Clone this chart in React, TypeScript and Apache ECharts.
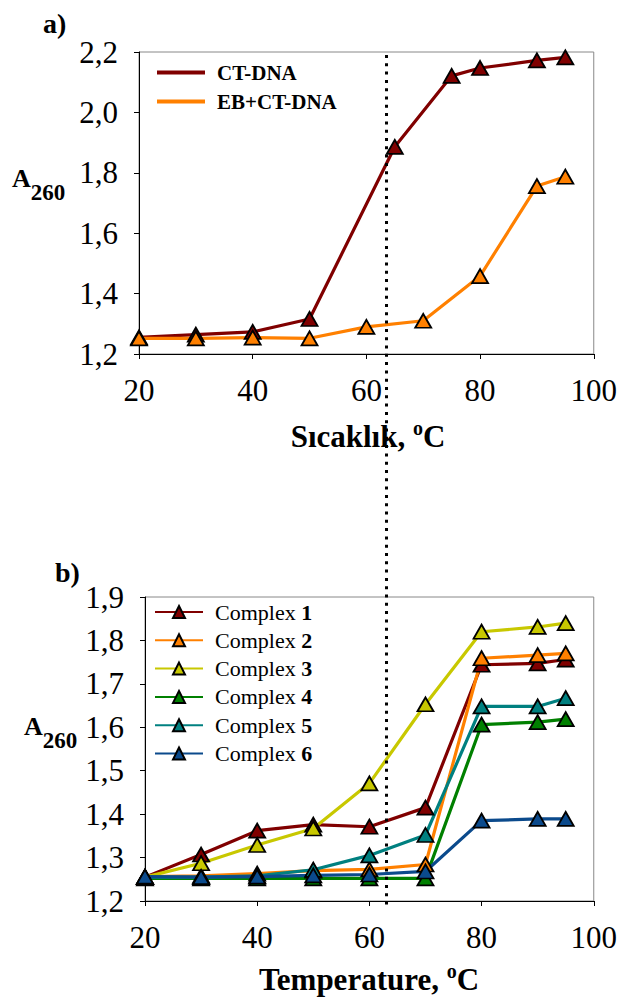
import React, { useEffect, useRef } from "react";
import * as echarts from "echarts";

// Panel a) data
const tempCT = [20, 30, 40, 50, 65, 75, 80, 90, 95];
const ctDna = [1.255, 1.264, 1.273, 1.316, 1.886, 2.121, 2.147, 2.172, 2.182];
const tempEB = [20, 30, 40, 50, 60, 70, 80, 90, 95];
const ebCtDna = [1.252, 1.252, 1.254, 1.252, 1.29, 1.31, 1.458, 1.756, 1.787];

// Panel b) data
const tempB = [20, 30, 40, 50, 60, 70, 80, 90, 95];
const complex1 = [1.255, 1.307, 1.362, 1.376, 1.371, 1.415, 1.744, 1.747, 1.756];
const complex2 = [1.256, 1.258, 1.263, 1.27, 1.273, 1.284, 1.759, 1.766, 1.77];
const complex3 = [1.255, 1.287, 1.329, 1.367, 1.471, 1.653, 1.82, 1.831, 1.84];
const complex4 = [1.252, 1.252, 1.252, 1.252, 1.252, 1.252, 1.606, 1.612, 1.619];
const complex5 = [1.255, 1.255, 1.258, 1.272, 1.305, 1.352, 1.648, 1.648, 1.667];
const complex6 = [1.256, 1.255, 1.256, 1.259, 1.261, 1.268, 1.385, 1.389, 1.389];

const complexNames = ["Complex 1", "Complex 2", "Complex 3", "Complex 4", "Complex 5", "Complex 6"];
const complexData = [complex1, complex2, complex3, complex4, complex5, complex6];
const complexColors = ["#800000", "#FF8000", "#C8C800", "#008000", "#008080", "#0B4A8C"];

const meltingTemp = 63.3;

const FONT = "'Liberation Serif', 'Times New Roman', serif";

const zip = (xs: number[], ys: number[]) => xs.map((x, i) => [x, ys[i]]);

export default function App() {
  const ref = useRef<HTMLDivElement>(null);

  useEffect(() => {
    document.body.style.margin = "0";
    if (!ref.current) return;
    const chart = echarts.init(ref.current, null, { renderer: "svg" });

    const tickFmt = (v: number) => v.toFixed(1).replace(".", ",");
    const xAxisBase = (gridIndex: number) => ({
      type: "value",
      gridIndex,
      min: 20,
      max: 100,
      interval: 20,
      axisLine: { show: true, lineStyle: { color: "#000", width: 1 } },
      axisTick: { show: true, inside: false, length: 5, lineStyle: { color: "#000" } },
      axisLabel: { margin: 21, fontSize: 31, fontFamily: FONT, color: "#000" },
      splitLine: { show: false },
    });

    const markerStyle = (color: string) => ({
      color,
      borderColor: "#000",
      borderWidth: 1.8,
    });

    const lineSeries = (name: string, data: number[][], color: string, idx: number) => ({
      type: "line",
      name,
      xAxisIndex: idx,
      yAxisIndex: idx,
      data,
      symbol: "triangle",
      symbolSize: [16, 14],
      showSymbol: true,
      lineStyle: { color, width: 3.2 },
      itemStyle: markerStyle(color),
      emphasis: { disabled: true },
    });

    const titleRich = {
      t: { fontSize: 31, fontWeight: "bold", fontFamily: FONT, color: "#000", lineHeight: 36, verticalAlign: "middle" },
      s: { fontSize: 20, fontWeight: "bold", fontFamily: FONT, color: "#000", verticalAlign: "top" },
    };
    const aRich = {
      a: { fontSize: 26, fontWeight: "bold", fontFamily: FONT, color: "#000", lineHeight: 39, verticalAlign: "top" },
      b: { fontSize: 23, fontWeight: "bold", fontFamily: FONT, color: "#000", verticalAlign: "bottom" },
    };

    const baseGraphic: any[] = [
      { type: "text", x: 43, y: 23, style: { text: "a)", font: `bold 28px ${FONT}`, fill: "#000", textVerticalAlign: "middle" } },
      { type: "text", x: 55, y: 572, style: { text: "b)", font: `bold 28px ${FONT}`, fill: "#000", textVerticalAlign: "middle" } },
      { type: "text", x: 12, y: 165, style: { text: "{a|A}{b|260}", rich: aRich } },
      { type: "text", x: 24, y: 713, style: { text: "{a|A}{b|260}", rich: aRich } },
      { type: "text", x: 368, y: 436, style: { text: "{t|Sıcaklık, }{s|o}{t|C}", rich: titleRich, align: "center", verticalAlign: "middle" } },
      { type: "text", x: 369, y: 979, style: { text: "{t|Temperature, }{s|o}{t|C}", rich: titleRich, align: "center", verticalAlign: "middle" } },
    ];

    const option: any = {
      animation: false,
      backgroundColor: "#fff",
      grid: [
        { left: 139, right: 24, top: 52, height: 302, show: true, borderColor: "#888", borderWidth: 1, backgroundColor: "transparent" },
        { left: 145, right: 24, top: 597, height: 304, show: true, borderColor: "#888", borderWidth: 1, backgroundColor: "transparent" },
      ],
      xAxis: [xAxisBase(0), xAxisBase(1)],
      yAxis: [
        {
          type: "value",
          gridIndex: 0,
          min: 1.2,
          max: 2.2,
          interval: 0.2,
          axisLine: { show: true, lineStyle: { color: "#000" } },
          axisTick: { show: true, length: 5, lineStyle: { color: "#000" } },
          axisLabel: { margin: 21, fontSize: 31, fontFamily: FONT, color: "#000", formatter: tickFmt },
          splitLine: { show: false },
        },
        {
          type: "value",
          gridIndex: 1,
          min: 1.2,
          max: 1.9,
          interval: 0.1,
          axisLine: { show: true, lineStyle: { color: "#000" } },
          axisTick: { show: true, length: 5, lineStyle: { color: "#000" } },
          axisLabel: { margin: 21, fontSize: 31, fontFamily: FONT, color: "#000", formatter: tickFmt },
          splitLine: { show: false },
        },
      ],
      legend: [
        {
          orient: "vertical",
          left: 157,
          top: 62,
          padding: 0,
          itemWidth: 48,
          itemHeight: 4,
          itemGap: 8,
          icon: "rect",
          itemStyle: { borderWidth: 0 },
          data: ["CT-DNA", "EB+CT-DNA"],
          textStyle: { fontSize: 21, fontWeight: "bold", fontFamily: FONT, color: "#000", padding: [0, 0, 0, 7] },
        },
        {
          orient: "vertical",
          left: 154,
          top: 601,
          padding: 0,
          itemWidth: 48,
          itemHeight: 15,
          itemGap: 6.3,
          data: complexNames,
          formatter: (name: string) => {
            const parts = name.split(" ");
            return `{n|${parts[0]} }{b|${parts[1]}}`;
          },
          textStyle: {
            fontSize: 22,
            fontFamily: FONT,
            color: "#000",
            padding: [0, 0, 0, 7],
            rich: {
              n: { fontSize: 22, fontFamily: FONT, color: "#000" },
              b: { fontSize: 22, fontFamily: FONT, fontWeight: "bold", color: "#000" },
            },
          },
        },
      ],
      series: [
        lineSeries("CT-DNA", zip(tempCT, ctDna), "#800000", 0),
        lineSeries("EB+CT-DNA", zip(tempEB, ebCtDna), "#FF8000", 0),
        ...complexNames.map((n, i) => lineSeries(n, zip(tempB, complexData[i]), complexColors[i], 1)),
      ],
      graphic: baseGraphic,
    };

    chart.setOption(option);

    const xTop = chart.convertToPixel({ xAxisIndex: 0 }, meltingTemp) as number;
    const xBot = chart.convertToPixel({ xAxisIndex: 1 }, meltingTemp) as number;
    const x = (xTop + xBot) / 2;
    const yStart = (chart.convertToPixel({ yAxisIndex: 0 }, 2.2) as number) + 3;
    const yEnd = (chart.convertToPixel({ yAxisIndex: 1 }, 1.2) as number) + 9;
    chart.setOption({
      graphic: [
        ...baseGraphic,
        {
          type: "line",
          z: 100,
          shape: { x1: x, y1: yStart, x2: x, y2: yEnd },
          style: { stroke: "#000", lineWidth: 3, lineDash: [3, 5.3] },
        },
      ],
    });

    return () => chart.dispose();
  }, []);

  return <div ref={ref} style={{ width: 620, height: 1003 }} />;
}
